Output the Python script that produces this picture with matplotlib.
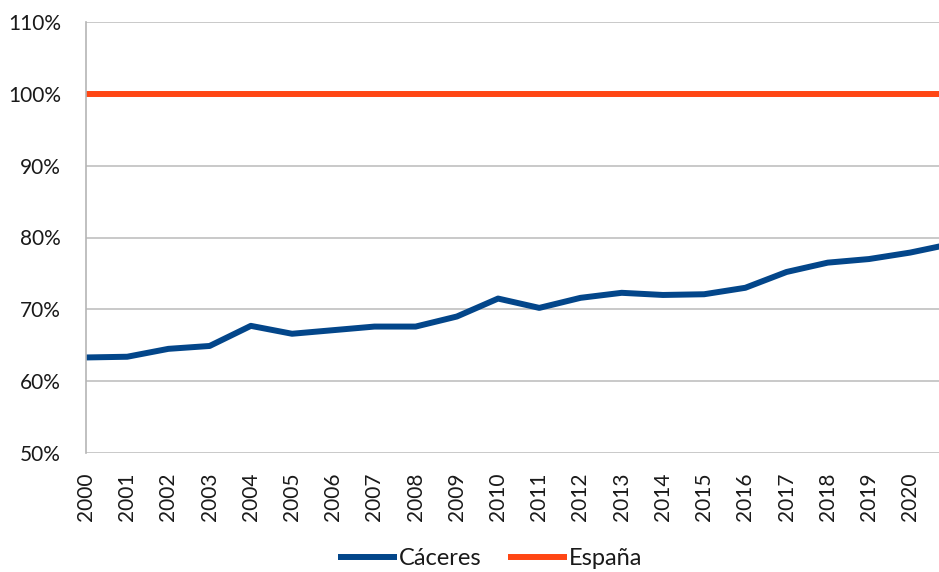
import numpy as np
import matplotlib.pyplot as plt
from matplotlib.ticker import PercentFormatter

years = list(range(2000, 2022))
caceres = [63.3, 63.4, 64.5, 64.9, 67.7, 66.6, 67.1, 67.6, 67.6, 69.0, 71.5,
           70.2, 71.6, 72.3, 72.0, 72.1, 73.0, 75.2, 76.5, 77.0, 77.9, 79.1]
espana = [100.0] * len(years)
tick_years = list(range(2000, 2021))

plt.rcParams['font.family'] = ['Lato', 'DejaVu Sans']

fig = plt.figure(figsize=(9.39, 5.72), dpi=100)
ax = fig.add_axes([86 / 939, 119 / 572, 1 - 86 / 939, 431 / 572])

ax.plot(years, caceres, color="#03468A", lw=4.3, label="Cáceres", solid_capstyle="butt")
ax.plot(years, espana, color="#FF4614", lw=4.3, label="España", solid_capstyle="butt")

ax.set_xlim(2000, 2020.7)
ax.set_ylim(50, 110)
ax.set_yticks(np.arange(50, 111, 10))
ax.yaxis.set_major_formatter(PercentFormatter(decimals=0))
ax.set_xticks(tick_years)
ax.set_xticklabels([str(y) for y in tick_years], rotation=90)
ax.tick_params(axis="both", length=0, labelsize=15, colors="#1a1a1a")
ax.tick_params(axis="x", pad=14)
ax.tick_params(axis="y", pad=18)
ax.grid(axis="y", color="#C0C0C0", lw=1.2)
ax.set_axisbelow(True)
for s in ["top", "right", "bottom"]:
    ax.spines[s].set_visible(False)
ax.spines["left"].set_color("#B5B5B5")
ax.spines["left"].set_linewidth(1.2)

fig.legend(loc="center", bbox_to_anchor=(0.522, 0.024), ncol=2, frameon=False,
           fontsize=17, handlelength=2.5, handletextpad=0.1, columnspacing=1.1,
           labelcolor="#1a1a1a")

fig.savefig("out.png", dpi=100)
